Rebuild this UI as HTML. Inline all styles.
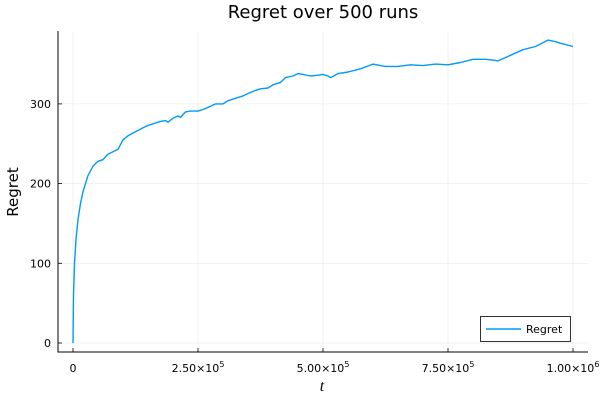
<!DOCTYPE html>
<html><head><meta charset="utf-8"><style>
body{margin:0;background:#fff;}
svg{display:block;font-family:"DejaVu Sans","Liberation Sans",sans-serif;}
</style></head><body>
<svg id="chart" width="600" height="400">
<text x="323" y="18" font-size="18" text-anchor="middle">Regret over 500 runs</text>
<g id="grid"></g>
<g id="axes"></g>
<path id="line" fill="none" stroke="#009af9" stroke-width="1.4" stroke-linejoin="round"></path>
<text x="18" y="192" font-size="15" text-anchor="middle" transform="rotate(-90 18 192)">Regret</text>
<text x="322" y="391" font-size="16" font-style="italic" font-family="Liberation Serif,serif" text-anchor="middle">t</text>
<g>
<rect x="480.5" y="316.5" width="90" height="25" fill="#fff" stroke="#000" stroke-width="0.8"></rect>
<line x1="486" y1="329" x2="521" y2="329" stroke="#009af9" stroke-width="1.6"></line>
<text x="526" y="333" font-size="11">Regret</text>
</g>
</svg>
<script>
const tValues=[0,1,3,6,10,15,20,30,40,50,60,70,80,90,100,110,125,140,150,160,175,185,190,200,210,215,225,235,250,260,275,285,300,310,325,340,350,365,375,390,400,415,425,440,450,460,475,490,500,510,515,530,550,575,600,615,625,650,675,700,725,750,775,800,825,840,850,875,900,925,950,965,975,1000];
const regretValues=[0,60,100,130,155,175,190,210,222,228,230,237,240,243,255,260,265,270,273,275,278,279,277,282,285,283,290,291,291,293,297,300,300,304,307,310,313,317,319,320,324,327,333,335,338,337,335,336,337,335,333,338,340,344,350,348,347,347,349,348,350,349,352,356,356,355,354,361,368,372,380,378,376,372];
const xTickValues=[0,250,500,750,1000];
const xTickLabels=["0","2.50×10^5","5.00×10^5","7.50×10^5","1.00×10^6"];
const yTickValues=[0,100,200,300];
const ns="http://www.w3.org/2000/svg";
const L=58,R=588,T=31,B=352;
function xs(t){return 73+t*0.5;}
function ys(v){return 343-v*0.797;}
const grid=document.getElementById('grid'),axes=document.getElementById('axes');
function mk(tag,attrs,parent){const e=document.createElementNS(ns,tag);for(const k in attrs)e.setAttribute(k,attrs[k]);parent.appendChild(e);return e;}
xTickValues.forEach((v,i)=>{
  const x=xs(v);
  const g=mk('line',{x1:x,x2:x,y1:T,y2:B,stroke:'#000','stroke-opacity':0.1,'stroke-width':0.5},grid);
  
  
  const tk=mk('line',{x1:x,x2:x,y1:B,y2:B-4,stroke:'#000','stroke-width':0.8},axes);
  
  
  const lab=xTickLabels[i];
  const tx=mk('text',{x:x,y:372,'font-size':11,'text-anchor':'middle'},axes);
  
  
  if(lab.includes('^')){const [b,e]=lab.split('^');tx.textContent=b;const s=mk('tspan',{dy:-5,'font-size':8},tx);s.textContent=e;}
  else tx.textContent=lab;
});
yTickValues.forEach(v=>{
  const y=ys(v);
  const g=mk('line',{x1:L,x2:R,y1:y,y2:y,stroke:'#000','stroke-opacity':0.1,'stroke-width':0.5},grid);
  
  
  const tk=mk('line',{x1:L,x2:L+4,y1:y,y2:y,stroke:'#000','stroke-width':0.8},axes);
  
  
  const tx=mk('text',{x:51,y:y+4,'font-size':11,'text-anchor':'end'},axes);
  
  
  tx.textContent=v;
});
const ax=mk('path',{d:`M${L},${T} V${B} H${R}`,fill:'none',stroke:'#000','stroke-width':1},axes);


document.getElementById('line').setAttribute('d',tValues.map((t,i)=>(i?'L':'M')+xs(t).toFixed(1)+','+ys(regretValues[i]).toFixed(1)).join(' '));
</script>
</body></html>
